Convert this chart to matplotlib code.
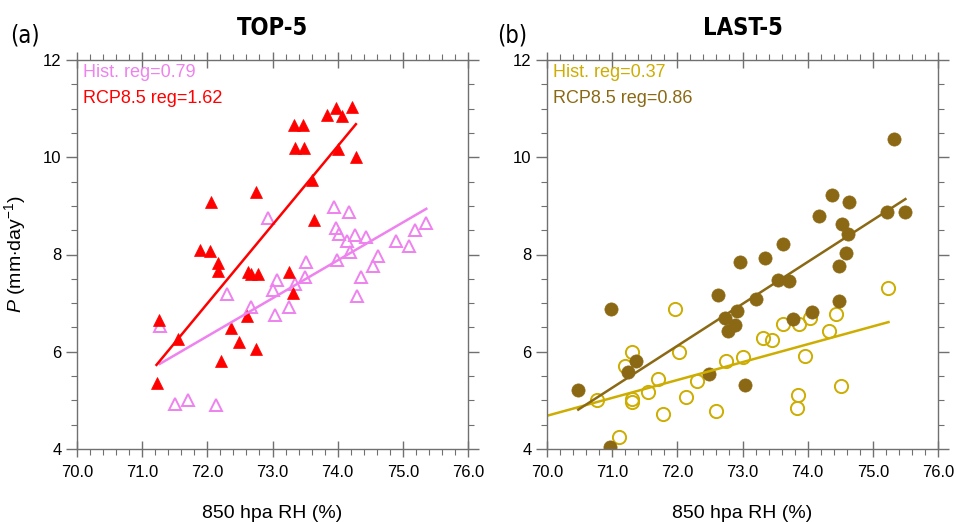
import numpy as np
import matplotlib
matplotlib.use('Agg')
import matplotlib.pyplot as plt
from matplotlib.ticker import MultipleLocator
from matplotlib import font_manager

plt.rcParams['font.family'] = ['Liberation Sans', 'DejaVu Sans']
plt.rcParams['mathtext.fontset'] = 'custom'
plt.rcParams['mathtext.rm'] = 'Liberation Sans'
plt.rcParams['mathtext.it'] = 'Liberation Sans:italic'

# narrow font for titles and panel tags, if there is one
names = set(f.name for f in font_manager.fontManager.ttflist)
narrow = ['Liberation Sans Narrow'] if 'Liberation Sans Narrow' in names else ['DejaVu Sans']

# ---- data ----
# (a) TOP-5
top_hist_x = [71.28, 71.51, 71.71, 72.14, 72.30, 72.67, 72.93, 73.04, 73.01, 73.07,
              73.25, 73.34, 73.50, 73.52, 73.95, 73.98, 74.02, 73.99, 74.17, 74.14,
              74.19, 74.27, 74.43, 74.30, 74.36, 74.54, 74.62, 74.89, 75.09, 75.18, 75.36]
top_hist_y = [6.53, 4.92, 5.00, 4.90, 7.18, 6.93, 8.75, 6.76, 7.27, 7.47,
              6.93, 7.39, 7.53, 7.84, 8.97, 8.54, 8.42, 7.89, 8.87, 8.27,
              8.06, 8.40, 8.35, 7.15, 7.53, 7.77, 7.96, 8.27, 8.18, 8.51, 8.64]
top_rcp_x = [71.26, 71.55, 71.22, 72.06, 71.89, 72.04, 72.17, 72.17, 72.37, 72.49,
             72.21, 72.61, 72.62, 72.67, 72.77, 72.74, 72.75, 73.25, 73.32, 73.33,
             73.47, 73.35, 73.49, 73.61, 73.63, 73.84, 73.98, 74.07, 74.00, 74.22, 74.28]
top_rcp_y = [6.66, 6.26, 5.36, 9.08, 8.10, 8.08, 7.82, 7.67, 6.49, 6.21,
             5.80, 6.73, 7.64, 7.60, 7.59, 9.29, 6.05, 7.65, 7.21, 10.66,
             10.66, 10.18, 10.18, 9.53, 8.71, 10.86, 11.01, 10.85, 10.16, 11.04, 10.01]
top_hist_fit_x = [71.27, 75.36]
top_hist_fit_y = [5.75, 8.94]
top_rcp_fit_x = [71.22, 74.28]
top_rcp_fit_y = [5.73, 10.68]

# (b) LAST-5
last_hist_x = [70.77, 71.10, 71.19, 71.31, 71.30, 71.31, 71.55, 71.71, 71.78, 71.97,
               72.03, 72.13, 72.30, 72.59, 72.74, 73.00, 73.32, 73.46, 73.62, 73.87,
               73.85, 73.83, 73.96, 74.03, 74.33, 74.43, 74.51, 75.24]
last_hist_y = [5.01, 4.24, 5.71, 6.00, 5.03, 4.97, 5.17, 5.44, 4.72, 6.88,
               5.99, 5.06, 5.40, 4.79, 5.80, 5.89, 6.28, 6.25, 6.57, 6.57,
               5.12, 4.84, 5.92, 6.69, 6.42, 6.78, 5.29, 7.32]
last_rcp_x = [70.48, 70.98, 70.97, 71.24, 71.37, 72.48, 72.62, 72.73, 72.78, 72.89,
              72.91, 72.96, 73.04, 73.21, 73.35, 73.55, 73.62, 73.71, 73.77, 74.06,
              74.17, 74.38, 74.48, 74.48, 74.53, 74.59, 74.62, 74.64, 75.21, 75.32, 75.49]
last_rcp_y = [5.21, 6.88, 4.05, 5.58, 5.82, 5.55, 7.16, 6.69, 6.43, 6.54,
              6.83, 7.84, 5.32, 7.08, 7.93, 7.48, 8.22, 7.45, 6.67, 6.81,
              8.79, 9.23, 7.05, 7.77, 8.62, 8.03, 8.42, 9.07, 8.87, 10.37, 8.87]
last_hist_fit_x = [69.8, 75.24]
last_hist_fit_y = [4.61, 6.61]
last_rcp_fit_x = [70.48, 75.50]
last_rcp_fit_y = [4.81, 9.14]

xticks = [70, 71, 72, 73, 74, 75, 76]
yticks = [4, 6, 8, 10, 12]

panels = [
    dict(tag='(a)', title='TOP-5',
         hx=top_hist_x, hy=top_hist_y, rx=top_rcp_x, ry=top_rcp_y,
         hfx=top_hist_fit_x, hfy=top_hist_fit_y, rfx=top_rcp_fit_x, rfy=top_rcp_fit_y,
         hcol='#EE82EE', rcol='#FF0000', marker='^',
         htxt='Hist. reg=0.79', rtxt='RCP8.5 reg=1.62'),
    dict(tag='(b)', title='LAST-5',
         hx=last_hist_x, hy=last_hist_y, rx=last_rcp_x, ry=last_rcp_y,
         hfx=last_hist_fit_x, hfy=last_hist_fit_y, rfx=last_rcp_fit_x, rfy=last_rcp_fit_y,
         hcol='#CDAD00', rcol='#8B6914', marker='o',
         htxt='Hist. reg=0.37', rtxt='RCP8.5 reg=0.86'),
]

fig = plt.figure(figsize=(9.56, 5.22), dpi=100)
lefts = [77 / 956, 547 / 956]
frame = '#707070'

for i, p in enumerate(panels):
    ax = fig.add_axes([lefts[i], 73 / 522, 391 / 956, 389 / 522])
    ms = 9 if p['marker'] == '^' else 9.5
    # hist: open markers, rcp: filled markers
    ax.plot(p['hx'], p['hy'], p['marker'], ls='none', ms=ms, mfc='none',
            mec=p['hcol'], mew=1.4)
    ax.plot(p['rx'], p['ry'], p['marker'], ls='none', ms=ms, mfc=p['rcol'],
            mec=p['rcol'], mew=0.5)
    ax.plot(p['hfx'], p['hfy'], color=p['hcol'], lw=1.8)
    ax.plot(p['rfx'], p['rfy'], color=p['rcol'], lw=1.8)

    ax.set_xlim(70, 76)
    ax.set_ylim(4, 12)
    ax.set_xticks(xticks)
    ax.set_xticklabels(['%.1f' % v for v in xticks])
    ax.set_yticks(yticks)
    ax.xaxis.set_minor_locator(MultipleLocator(0.2))
    ax.yaxis.set_minor_locator(MultipleLocator(0.5))
    ax.tick_params(axis='x', which='major', direction='inout', length=11, width=1,
                   color=frame, top=True, labelsize=12, pad=6)
    ax.tick_params(axis='x', which='minor', direction='out', length=4, width=0.8,
                   color=frame, top=True)
    ax.tick_params(axis='y', which='major', direction='out', length=8, width=1,
                   color=frame, right=True, labelsize=12, pad=3)
    ax.tick_params(axis='y', which='minor', direction='out', length=4, width=0.8,
                   color=frame, right=True)
    for s in ax.spines.values():
        s.set_color(frame)
        s.set_linewidth(1.0)

    ax.set_xlabel('850 hpa RH (%)', fontsize=14)
    ax.xaxis.set_label_coords(0.5, -0.143)
    if i == 0:
        ax.set_ylabel(r'$P$ (mm$\cdot$day$^{-1}$)', fontsize=14)
        ax.yaxis.set_label_coords(-0.125, 0.5)

    ax.text(0.015, 0.968, p['htxt'], color=p['hcol'], fontsize=13,
            transform=ax.transAxes, va='center', ha='left')
    ax.text(0.015, 0.902, p['rtxt'], color=p['rcol'], fontsize=13,
            transform=ax.transAxes, va='center', ha='left')

    ax.set_title(p['title'], fontsize=17, fontweight='bold', family=narrow,
                 fontstretch='condensed', pad=18)
    fig.text([10 / 956, 497 / 956][i], 1 - 35 / 522, p['tag'], fontsize=17,
             family=narrow, fontstretch='condensed', va='center', ha='left')

fig.savefig('out.png', dpi=100)
